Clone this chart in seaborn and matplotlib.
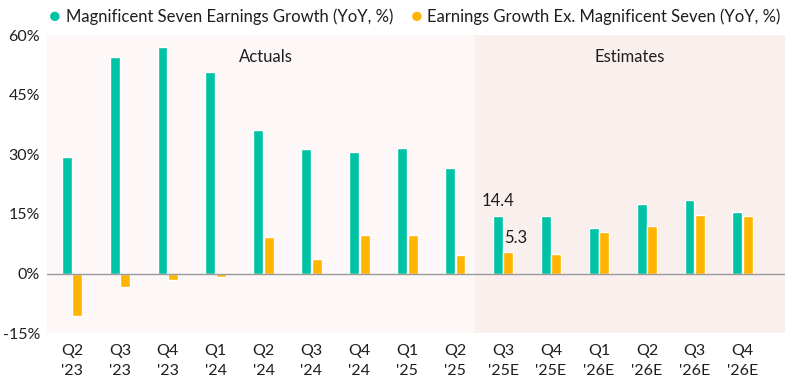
"""
Magnificent Seven vs rest of index: earnings growth, actuals and estimates
"""
import pandas as pd
import matplotlib.pyplot as plt
import seaborn as sns

quarters = ["Q2\n'23", "Q3\n'23", "Q4\n'23", "Q1\n'24", "Q2\n'24", "Q3\n'24", "Q4\n'24",
            "Q1\n'25", "Q2\n'25", "Q3\n'25E", "Q4\n'25E", "Q1\n'26E", "Q2\n'26E",
            "Q3\n'26E", "Q4\n'26E"]
mag7_growth = [29.4, 54.6, 56.9, 50.8, 36.1, 31.3, 30.6, 31.7, 26.5,
               14.4, 14.6, 11.5, 17.6, 18.6, 15.6]
ex_mag7_growth = [-10.7, -3.5, -1.7, -0.9, 9.1, 3.7, 9.7, 9.6, 4.7,
                  5.3, 4.9, 10.5, 11.9, 14.7, 14.4]
series_names = ["Magnificent Seven Earnings Growth (YoY, %)",
                "Earnings Growth Ex. Magnificent Seven (YoY, %)"]
yticks = [-15, 0, 15, 30, 45, 60]
n_actual = 9  # first 9 quarters are actuals

sns.set_theme(style="white")
plt.rcParams['font.family'] = ['Lato', 'DejaVu Sans']

df = pd.DataFrame({
    'Quarter': quarters * 2,
    'Growth': mag7_growth + ex_mag7_growth,
    'Series': [series_names[0]] * len(quarters) + [series_names[1]] * len(quarters),
})

teal = '#00c2a5'
gold = '#ffb400'
txt = '#1e1e1e'

fig = plt.figure(figsize=(7.9, 3.82), dpi=100)
ax = fig.add_axes([0.0595, 0.128, 0.934, 0.78])

# shaded backgrounds for actuals / estimates
split = n_actual - 0.58
ax.axvspan(-0.6, split, color='#fdf8f7', zorder=0, lw=0)
ax.axvspan(split, len(quarters), color='#f9f0ee', zorder=0, lw=0)

sns.barplot(data=df, x='Quarter', y='Growth', hue='Series', order=quarters,
            hue_order=series_names, palette=[teal, gold], saturation=1,
            width=0.44, gap=0.06, ax=ax, legend=False, zorder=2)

ax.axhline(0, color='#9a9a9a', lw=1, zorder=3)

# value labels for the first estimate quarter
ax.annotate(f'{mag7_growth[n_actual]:.1f}', (n_actual - 0.11, mag7_growth[n_actual]),
            xytext=(0, 5), textcoords='offset points', ha='center', va='bottom',
            fontsize=12, color=txt)
ax.annotate(f'{ex_mag7_growth[n_actual]:.1f}', (n_actual + 0.11, ex_mag7_growth[n_actual]),
            xytext=(5, 5), textcoords='offset points', ha='center', va='bottom',
            fontsize=12, color=txt)

ax.text((split - 0.52) / 2 + 0.1, 54.5, 'Actuals', ha='center', va='center', fontsize=12, color=txt)
ax.text((split + 14.88) / 2, 54.5, 'Estimates', ha='center', va='center', fontsize=12, color=txt)

ax.set_xlim(-0.52, 14.88)
ax.set_ylim(-15, 60)
ax.set_yticks(yticks)
ax.set_yticklabels([f'{v}%' for v in yticks], fontsize=11.5, color=txt)
ax.set_xticks(range(len(quarters)))
ax.set_xticklabels(quarters, fontsize=11.5, color=txt, linespacing=1.5)
ax.tick_params(axis='x', length=0, pad=8)
ax.tick_params(axis='y', length=0, pad=5)
ax.set_xlabel('')
ax.set_ylabel('')
for s in ax.spines.values():
    s.set_visible(False)

# legend row at top
fig.text(0.069, 0.957, '●', color=teal, fontsize=14, ha='center', va='center')
fig.text(0.083, 0.955, series_names[0], fontsize=12, ha='left', va='center', color=txt)
fig.text(0.527, 0.957, '●', color=gold, fontsize=14, ha='center', va='center')
fig.text(0.541, 0.955, series_names[1], fontsize=12, ha='left', va='center', color=txt)

fig.savefig('out.png', dpi=100)
